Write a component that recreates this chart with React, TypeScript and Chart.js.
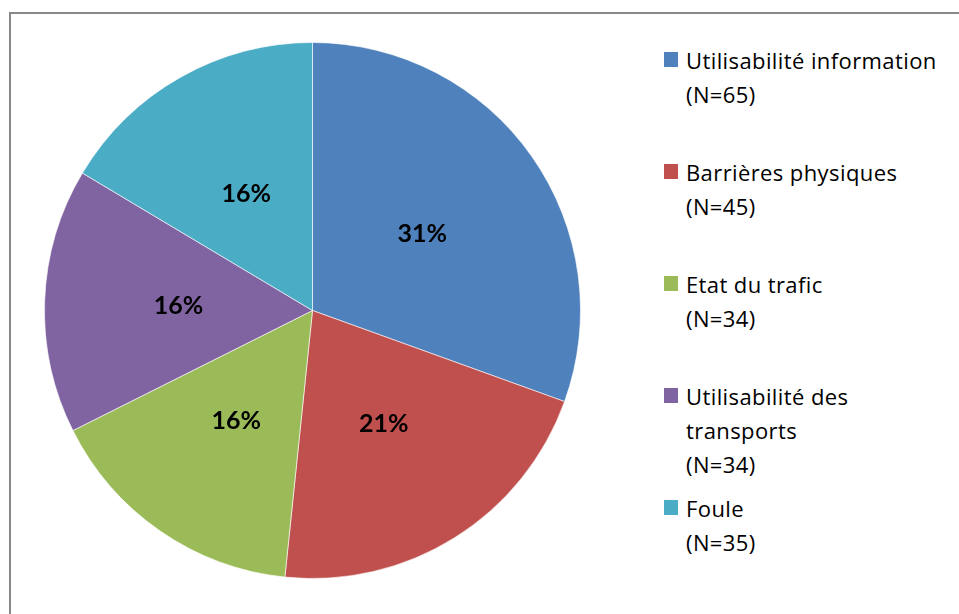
import React, { useEffect, useRef } from "react";
import { Chart, registerables } from "chart.js";

Chart.register(...registerables);

const categories = [
  "Utilisabilité information",
  "Barrières physiques",
  "Etat du trafic",
  "Utilisabilité des transports",
  "Foule",
];
const values = [65, 45, 34, 34, 35];
const colors = ["#4F81BD", "#C0504D", "#9BBB59", "#8064A2", "#4BACC6"];
const legendLines = [
  ["Utilisabilité information", "(N=65)"],
  ["Barrières physiques", "(N=45)"],
  ["Etat du trafic", "(N=34)"],
  ["Utilisabilité des", "transports", "(N=34)"],
  ["Foule", "(N=35)"],
];
const legendTops = [43, 155, 267, 379, 491];

const LABEL_FONT = "Lato, 'Open Sans', 'DejaVu Sans', sans-serif";
const LEGEND_FONT = "'Open Sans', Lato, 'DejaVu Sans', sans-serif";

const labelPlugin = {
  id: "pctLabels",
  afterDatasetsDraw(chart: any) {
    const ctx = chart.ctx;
    const meta = chart.getDatasetMeta(0);
    const data = chart.data.datasets[0].data as number[];
    const total = data.reduce((a, b) => a + b, 0);
    ctx.save();
    ctx.font = "bold 25px " + LABEL_FONT;
    ctx.fillStyle = "#000";
    ctx.textAlign = "center";
    ctx.textBaseline = "middle";
    meta.data.forEach((arc: any, i: number) => {
      const p = arc.getCenterPoint();
      const pct = Math.round((data[i] / total) * 100) + "%";
      ctx.fillText(pct, p.x, p.y);
    });
    ctx.restore();
  },
};

export default function App() {
  const ref = useRef<HTMLCanvasElement>(null);
  useEffect(() => {
    if (!ref.current) return;
    const chart = new Chart(ref.current, {
      type: "pie",
      data: {
        labels: categories,
        datasets: [
          {
            data: values,
            backgroundColor: colors,
            borderColor: "rgba(255,255,255,0.6)",
            borderWidth: 1,
          },
        ],
      },
      options: {
        responsive: false,
        animation: false,
        layout: { padding: 0 },
        plugins: {
          legend: { display: false },
          tooltip: { enabled: false },
        },
      },
      plugins: [labelPlugin],
    });
    return () => chart.destroy();
  }, []);

  return (
    <div
      style={{
        position: "fixed",
        left: 0,
        top: 0,
        width: 959,
        height: 614,
        overflow: "hidden",
        background: "#fff",
      }}
    >
      <div
        style={{
          position: "absolute",
          left: 9,
          top: 12,
          width: 1200,
          height: 1200,
          borderTop: "2px solid #888",
          borderLeft: "2px solid #888",
          boxSizing: "border-box",
        }}
      />
      <canvas
        ref={ref}
        width={537}
        height={537}
        style={{ position: "absolute", left: 44, top: 42, width: 537, height: 537 }}
      />
      {legendLines.map((lines, i) => (
        <div
          key={i}
          style={{
            position: "absolute",
            left: 664,
            top: legendTops[i],
            display: "flex",
            alignItems: "flex-start",
          }}
        >
          <div
            style={{
              width: 14,
              height: 15,
              background: colors[i],
              marginTop: 9,
              marginRight: 8,
              flex: "none",
            }}
          />
          <div
            style={{
              fontFamily: LEGEND_FONT,
              fontSize: 22,
              letterSpacing: "0.4px",
              lineHeight: "34px",
              color: "#000",
              whiteSpace: "nowrap",
            }}
          >
            {lines.map((l, j) => (
              <div key={j}>{l}</div>
            ))}
          </div>
        </div>
      ))}
    </div>
  );
}
